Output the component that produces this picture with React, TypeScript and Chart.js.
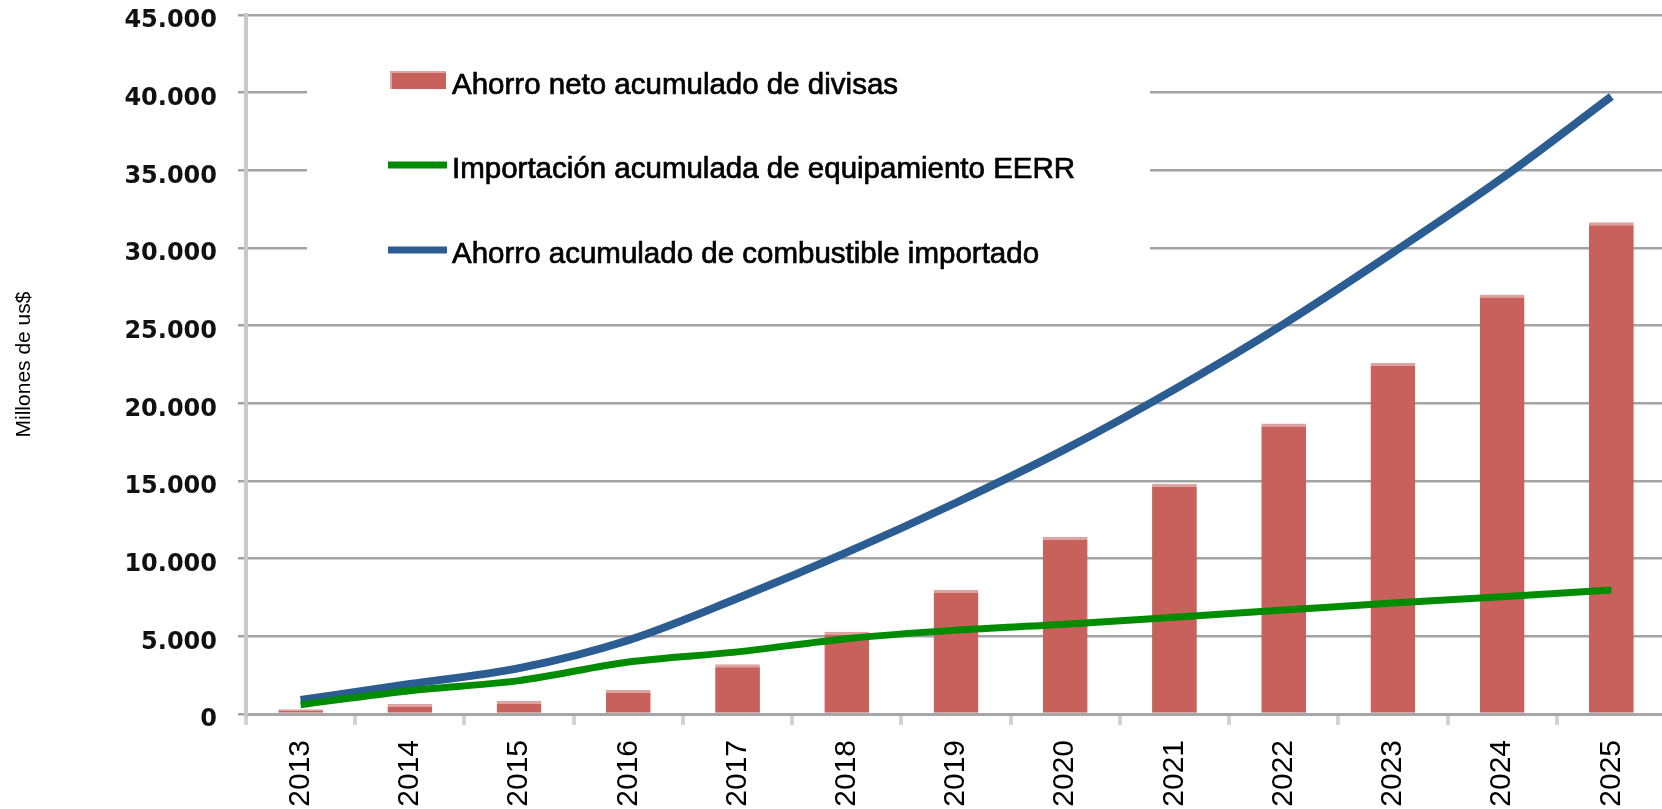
import { useEffect, useRef } from 'react';
import { Chart, registerables } from 'chart.js';

Chart.register(...registerables);

const years = ['2013', '2014', '2015', '2016', '2017', '2018', '2019', '2020', '2021', '2022', '2023', '2024', '2025'];
const ahorroNeto = [300, 650, 850, 1550, 3200, 5300, 8000, 11400, 14800, 18700, 22600, 27000, 31650];
const importacionEERR = [600, 1500, 2150, 3350, 4000, 4850, 5400, 5780, 6230, 6690, 7150, 7550, 7980];
const ahorroCombustible = [900, 1930, 2950, 4750, 7450, 10400, 13600, 17050, 20900, 25100, 29700, 34500, 39750];
const seriesLabels = [
  'Ahorro neto acumulado de divisas',
  'Importación acumulada de equipamiento EERR',
  'Ahorro acumulado de combustible importado',
];
const yAxisTitle = 'Millones de us$';

const RED = '#c8605c';
const RED_LIGHT = '#dca3a1';
const GREEN = '#008c00';
const BLUE = '#2b5c92';

function formatThousands(v: number): string {
  const s = Math.round(v).toString();
  return s.replace(/\B(?=(\d{3})+(?!\d))/g, '.');
}

const boxLegend = {
  id: 'boxLegend',
  beforeDatasetsDraw(chart: any) {
    const ctx = chart.ctx as CanvasRenderingContext2D;
    ctx.save();
    ctx.fillStyle = '#ffffff';
    ctx.fillRect(307, 25, 843, 267);

    // bar swatch
    ctx.fillStyle = RED_LIGHT;
    ctx.fillRect(390, 71, 56, 18);
    ctx.fillStyle = RED;
    ctx.fillRect(392, 73, 54, 16);

    // green line swatch
    ctx.lineCap = 'butt';
    ctx.strokeStyle = GREEN;
    ctx.lineWidth = 7;
    ctx.beginPath();
    ctx.moveTo(388, 165);
    ctx.lineTo(447, 165);
    ctx.stroke();

    // blue line swatch
    ctx.strokeStyle = BLUE;
    ctx.lineWidth = 7;
    ctx.beginPath();
    ctx.moveTo(388, 250);
    ctx.lineTo(447, 250);
    ctx.stroke();

    ctx.fillStyle = '#000000';
    ctx.strokeStyle = '#000000';
    ctx.lineWidth = 0.7;
    ctx.font = '29.5px "Liberation Sans", Arial, sans-serif';
    ctx.textBaseline = 'alphabetic';
    ctx.textAlign = 'left';
    const rows: [string, number][] = [
      [seriesLabels[0], 94],
      [seriesLabels[1], 178],
      [seriesLabels[2], 263],
    ];
    rows.forEach(([t, y]) => {
      ctx.fillText(t, 452, y);
      ctx.strokeText(t, 452, y);
    });
    ctx.restore();
  },
};

export default function App() {
  const canvasRef = useRef<HTMLCanvasElement | null>(null);

  useEffect(() => {
    if (!canvasRef.current) return;
    const chart = new Chart(canvasRef.current, {
      type: 'bar',
      data: {
        labels: years,
        datasets: [
          {
            type: 'bar',
            label: seriesLabels[0],
            data: ahorroNeto,
            backgroundColor: RED,
            borderColor: RED_LIGHT,
            borderWidth: { top: 3, right: 0, bottom: 0, left: 0 },
            borderSkipped: false,
            barPercentage: 0.82,
            categoryPercentage: 0.5,
            order: 3,
          },
          {
            type: 'line',
            label: seriesLabels[1],
            data: importacionEERR,
            borderColor: GREEN,
            backgroundColor: GREEN,
            borderWidth: 7,
            pointRadius: 0,
            pointHoverRadius: 0,
            cubicInterpolationMode: 'monotone',
            fill: false,
            order: 1,
          },
          {
            type: 'line',
            label: seriesLabels[2],
            data: ahorroCombustible,
            borderColor: BLUE,
            backgroundColor: BLUE,
            borderWidth: 8,
            pointRadius: 0,
            pointHoverRadius: 0,
            cubicInterpolationMode: 'monotone',
            fill: false,
            order: 2,
          },
        ],
      } as any,
      options: {
        responsive: false,
        animation: false,
        devicePixelRatio: 1,
        layout: { padding: { left: 0, right: 4, top: 15, bottom: 0 } },
        plugins: {
          legend: { display: false },
          tooltip: { enabled: false },
          title: { display: false },
        },
        scales: {
          x: {
            type: 'category',
            offset: true,
            grid: {
              offset: true,
              drawOnChartArea: false,
              drawTicks: true,
              tickLength: 11,
              color: '#d2d2d2',
              lineWidth: 4,
            },
            border: { display: true, color: '#a6a6a6', width: 3 },
            ticks: {
              autoSkip: false,
              maxRotation: 90,
              minRotation: 90,
              padding: 15,
              color: '#000000',
              font: { family: '"Liberation Sans", Arial, sans-serif', size: 30 },
            },
            afterFit: (s: any) => {
              s.height = 95;
            },
          },
          y: {
            min: 0,
            max: 45000,
            grid: {
              color: '#a3a3a3',
              lineWidth: 2.5,
              drawTicks: true,
              tickLength: 8,
            },
            border: { display: true, color: '#c9c9c9', width: 4 },
            ticks: {
              stepSize: 5000,
              padding: 21,
              labelOffset: 6,
              color: '#111111',
              font: { family: '"DejaVu Sans", Verdana, sans-serif', size: 24, weight: 'bold' },
              callback: (v: any) => formatThousands(Number(v)),
            },
            title: {
              display: true,
              text: yAxisTitle,
              color: '#000000',
              font: { family: '"Liberation Sans", Arial, sans-serif', size: 21 },
              padding: { top: 12, bottom: 0 },
            },
            afterFit: (s: any) => {
              s.width = 246;
              s.paddingTop = 0;
              s.paddingBottom = 0;
            },
          },
        },
      } as any,
      plugins: [boxLegend],
    });
    return () => chart.destroy();
  }, []);

  return (
    <div style={{ position: 'fixed', left: 0, top: 0, width: 1662, height: 809, overflow: 'hidden', background: '#fff' }}>
      <canvas ref={canvasRef} width={1670} height={809} style={{ display: 'block' }} />
    </div>
  );
}
